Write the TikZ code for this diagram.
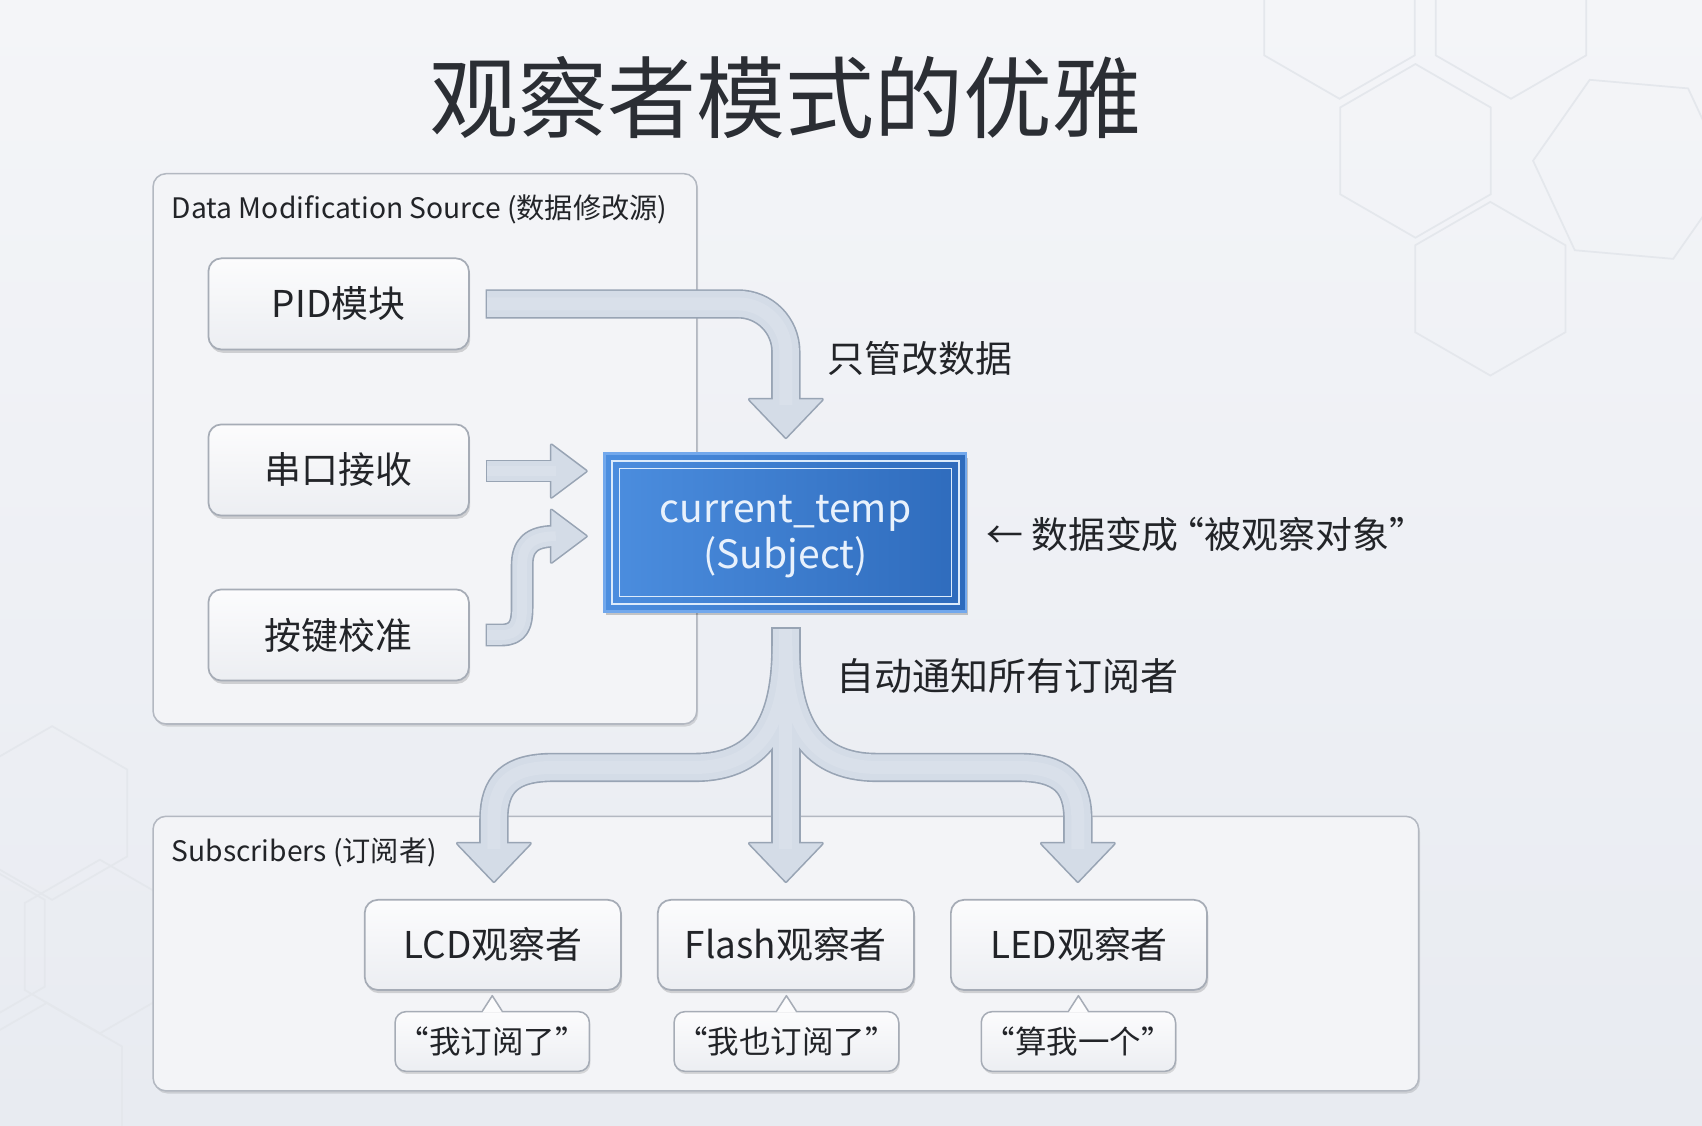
\documentclass[tikz,border=0pt]{standalone}
\usepackage{fontspec}
\setmainfont{Noto Sans CJK SC}
\usetikzlibrary{shadows,calc}

\definecolor{bgtop}{HTML}{F4F5F8}
\definecolor{bgbot}{HTML}{E8EBF1}
\definecolor{hexc}{HTML}{E4E7EC}
\definecolor{grpfill}{HTML}{F3F4F7}
\definecolor{grpline}{HTML}{B3B8C1}
\definecolor{boxtop}{HTML}{FCFCFD}
\definecolor{boxbot}{HTML}{ECEEF2}
\definecolor{boxline}{HTML}{A6ACB6}
\definecolor{txt}{HTML}{222428}
\definecolor{titlec}{HTML}{2B2E34}
\definecolor{subjL}{HTML}{4C8EDF}
\definecolor{subjR}{HTML}{2E6BBC}
\definecolor{subjedge}{HTML}{72A8EC}
\definecolor{subjin}{HTML}{DCEBFB}
\definecolor{subjtxt}{HTML}{E8F1FC}
\definecolor{arrfill}{HTML}{D4DCE7}
\definecolor{arrhi}{HTML}{D9E0EA}
\definecolor{arredge}{HTML}{98A4B4}

\tikzset{
  grp/.style={draw=grpline, line width=0.7pt, fill=grpfill, rounded corners=6pt,
    drop shadow={shadow xshift=0.6pt, shadow yshift=-1.2pt, opacity=0.12, fill=black}},
  grplabel/.style={anchor=west, text=txt, font=\fontsize{13}{15}\selectfont, inner sep=0pt},
  srcbox/.style={draw=boxline, line width=0.8pt, rounded corners=6pt, top color=boxtop,
    bottom color=boxbot, minimum width=120pt, minimum height=42pt, text=txt,
    font=\fontsize{17}{20}\selectfont, inner sep=0pt,
    drop shadow={shadow xshift=0.6pt, shadow yshift=-1.5pt, opacity=0.15, fill=black}},
  obsbox/.style={srcbox, minimum width=118pt, minimum height=41.5pt},
  bubble/.style={draw=boxline, line width=0.7pt, rounded corners=5pt, top color=boxtop,
    bottom color=boxbot, minimum height=27.5pt, text=txt, inner sep=0pt,
    font=\fontsize{14.5}{16}\selectfont,
    drop shadow={shadow xshift=0.5pt, shadow yshift=-1.2pt, opacity=0.12, fill=black}},
  subjbox/.style={draw=subjedge, line width=1.3pt, left color=subjL, right color=subjR,
    minimum width=166.5pt, minimum height=72.5pt, inner sep=0pt,
    drop shadow={shadow xshift=0.8pt, shadow yshift=-1.8pt, opacity=0.2, fill=black}},
  subjtext/.style={text=subjtxt, align=center, font=\fontsize{18}{21.5}\selectfont, inner sep=0pt},
  sidelabel/.style={anchor=west, text=txt, font=\fontsize{17}{20}\selectfont, inner sep=0pt},
  hexline/.style={draw=hexc, line width=0.8pt},
  aedge/.style={draw=arredge, line cap=butt, line join=round},
  afill/.style={draw=arrfill, line cap=butt, line join=round},
  ahi/.style={draw=arrhi, line cap=butt, line join=round},
  headedge/.style={fill=arredge, draw=arredge, line width=1.5pt, line join=round},
  headfill/.style={fill=arrfill},
}

\begin{document}
\begin{tikzpicture}[x=0.5pt,y=-0.5pt]
\useasboundingbox (0,0) rectangle (1568,1037);
\shade[top color=bgtop, bottom color=bgbot] (0,0) rectangle (1568,1037);

% faint background hexagons
\foreach \cx/\cy in {1304/139, 1234/11, 1392/11, 1373/266, 48/749, 92/872, -28/869, 43/1004}{
  \draw[hexline] (\cx,\cy-80) -- (\cx+69.3,\cy-40) -- (\cx+69.3,\cy+40) -- (\cx,\cy+80)
    -- (\cx-69.3,\cy+40) -- (\cx-69.3,\cy-40) -- cycle;
}
\draw[hexline, shift={(1503,156)}] (185:91) -- (245:91) -- (305:91) -- (5:91) -- (65:91) -- (125:91) -- cycle;

% title
\node[text=titlec, font=\fontsize{41}{48}\selectfont, inner sep=0pt] (title) at (724,90) {观察者模式的优雅};

% groups
\draw[grp] (141,160) rectangle (642,667);
\node[grplabel] (srclabel) at (158,193) {Data Modification Source (数据修改源)};
\draw[grp] (141,752) rectangle (1307,1005);
\node[grplabel] (sublabel) at (158,785) {Subscribers (订阅者)};

% source boxes
\node[srcbox] (pid) at (312,280) {PID模块};
\node[srcbox] (uart) at (312,433) {串口接收};
\node[srcbox] (key) at (312,585) {按键校准};

% subject
\node[subjbox] (subj) at (723.5,490.5) {};
\draw[draw=subjin, line width=1.1pt] ($(subj.north west)+(8,8)$) rectangle ($(subj.south east)+(-8,-8)$);
\draw[draw=subjin, line width=0.6pt] ($(subj.north west)+(15,15)$) rectangle ($(subj.south east)+(-15,-15)$);
\node[subjtext] (subjt) at ($(subj.center)+(0,4)$) {current\_temp\\(Subject)};

% observers
\node[obsbox] (lcd) at (454,870.5) {LCD观察者};
\node[obsbox] (flash) at (724,870.5) {Flash观察者};
\node[obsbox] (led) at (994,870.5) {LED观察者};

% bubbles
\node[bubble, minimum width=89.5pt] (b1) at (453.5,959.5) {“我订阅了”};
\node[bubble, minimum width=103.5pt] (b2) at (724.5,959.5) {“我也订阅了”};
\node[bubble, minimum width=89.5pt] (b3) at (993.5,959.5) {“算我一个”};
\foreach \n in {b1,b2,b3}{
  \coordinate (\n tip) at ($(\n.north)+(0,-14)$);
  \fill[boxtop] ($(\n.north)+(-9,1.5)$) -- (\n tip) -- ($(\n.north)+(9,1.5)$) -- cycle;
  \draw[draw=boxline, line width=0.7pt, line join=round] ($(\n.north)+(-9,0)$) -- (\n tip) -- ($(\n.north)+(9,0)$);
}

% side labels
\node[sidelabel] (lab1) at (762,330) {只管改数据};
\node[sidelabel] (lab2) at (908,492) {← 数据变成\kern-0.3em“被观察对象”};
\node[sidelabel, font=\fontsize{17.5}{20}\selectfont] (lab3) at (770,623) {自动通知所有订阅者};

% ---------- arrows ----------
\coordinate (pidA) at ($(pid.east)+(16,0)$);
\coordinate (pidB) at (724,280);
\coordinate (pidC) at (724,373);
\coordinate (uA) at ($(uart.east)+(16,1)$);
\coordinate (uB) at (512,434);
\coordinate (kA) at ($(key.east)+(16,0)$);
\coordinate (kB) at (512,494);
\coordinate (fA) at ($(subj.south)+(0.5,15)$);
\coordinate (fM) at (724,782);
\coordinate (fL) at (455,782);
\coordinate (fR) at (993,782);

% borders
\draw[aedge, line width=13.5pt, rounded corners=22pt] ($(pidA)+(-1.5,0)$) -- (pidB) -- (pidC);
\draw[headedge] (690.5,368) -- (724,403) -- (757.5,368) -- cycle;
\draw[aedge, line width=10.5pt] ($(uA)+(-1.5,0)$) -- (uB);
\draw[headedge] (508,410) -- (540,434) -- (508,458) -- cycle;
\draw[aedge, line width=10.5pt] ($(kA)+(-1.5,0)$) -- (462,585) .. controls (478,585) and (481,575) .. (481,560) -- (481,521) .. controls (481,503) and (489,494) .. (kB);
\draw[headedge] (508,470) -- (540,494) -- (508,518) -- cycle;
\draw[aedge, line width=13.5pt] ($(fA)+(0,-1.5)$) -- (fM);
\draw[aedge, line width=13.5pt] (724,595) .. controls (724,660) and (705,707) .. (640,707) -- (510,707) .. controls (470,707) and (455,722) .. (455,755) -- (fL);
\draw[aedge, line width=13.5pt] (724,595) .. controls (724,660) and (743,707) .. (808,707) -- (938,707) .. controls (978,707) and (993,722) .. (993,755) -- (fR);
\draw[headedge] (421.5,777) -- (455,812) -- (488.5,777) -- cycle;
\draw[headedge] (690.5,777) -- (724,812) -- (757.5,777) -- cycle;
\draw[headedge] (959.5,777) -- (993,812) -- (1026.5,777) -- cycle;

% fills
\draw[afill, line width=12pt, rounded corners=22pt] (pidA) -- (pidB) -- (pidC);
\fill[headfill] (690.5,368) -- (724,403) -- (757.5,368) -- cycle;
\draw[afill, line width=9pt] (uA) -- (uB);
\fill[headfill] (508,410) -- (540,434) -- (508,458) -- cycle;
\draw[afill, line width=9pt] (kA) -- (462,585) .. controls (478,585) and (481,575) .. (481,560) -- (481,521) .. controls (481,503) and (489,494) .. (kB);
\fill[headfill] (508,470) -- (540,494) -- (508,518) -- cycle;
\draw[afill, line width=12pt] (fA) -- (fM);
\draw[afill, line width=12pt] (724,595) .. controls (724,660) and (705,707) .. (640,707) -- (510,707) .. controls (470,707) and (455,722) .. (455,755) -- (fL);
\draw[afill, line width=12pt] (724,595) .. controls (724,660) and (743,707) .. (808,707) -- (938,707) .. controls (978,707) and (993,722) .. (993,755) -- (fR);
\fill[headfill] (421.5,777) -- (455,812) -- (488.5,777) -- cycle;
\fill[headfill] (690.5,777) -- (724,812) -- (757.5,777) -- cycle;
\fill[headfill] (959.5,777) -- (993,812) -- (1026.5,777) -- cycle;
% soft highlights
\draw[ahi, line width=6pt, rounded corners=22pt] (pidA) -- (pidB) -- (pidC);
\draw[ahi, line width=4.5pt] (uA) -- (uB);
\draw[ahi, line width=4.5pt] (kA) -- (462,585) .. controls (478,585) and (481,575) .. (481,560) -- (481,521) .. controls (481,503) and (489,494) .. (kB);
\draw[ahi, line width=6pt] (fA) -- (fM);
\draw[ahi, line width=6pt] (724,595) .. controls (724,660) and (705,707) .. (640,707) -- (510,707) .. controls (470,707) and (455,722) .. (455,755) -- (fL);
\draw[ahi, line width=6pt] (724,595) .. controls (724,660) and (743,707) .. (808,707) -- (938,707) .. controls (978,707) and (993,722) .. (993,755) -- (fR);
\end{tikzpicture}
\end{document}
